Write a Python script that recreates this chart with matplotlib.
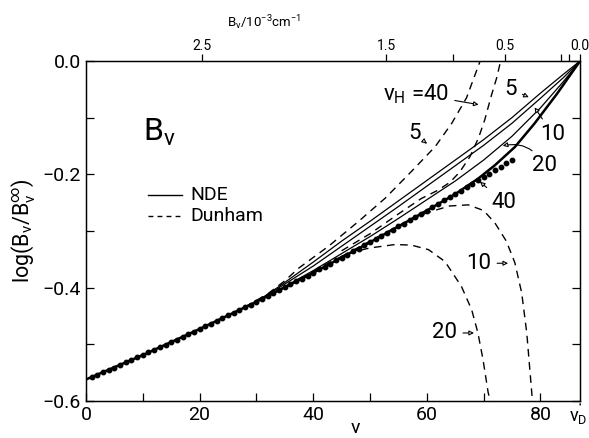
import numpy as np
import matplotlib.pyplot as plt

plt.rcParams['font.family'] = ['Roboto', 'DejaVu Sans']
plt.rcParams['mathtext.fontset'] = 'custom'
plt.rcParams['mathtext.rm'] = 'Roboto'
plt.rcParams['mathtext.it'] = 'Roboto'
plt.rcParams['mathtext.sf'] = 'Roboto'

# exact B_v values (dots), one per vibrational level
v_dots = list(range(1, 76))
y_dots = [-0.558, -0.554, -0.549, -0.545, -0.541, -0.536, -0.532, -0.528, -0.523, -0.519,
          -0.514, -0.510, -0.505, -0.501, -0.496, -0.492, -0.487, -0.482, -0.478, -0.473,
          -0.468, -0.464, -0.459, -0.454, -0.449, -0.444, -0.439, -0.434, -0.430, -0.425,
          -0.420, -0.415, -0.410, -0.405, -0.399, -0.394, -0.389, -0.384, -0.379, -0.374,
          -0.368, -0.363, -0.358, -0.352, -0.347, -0.342, -0.336, -0.331, -0.325, -0.320,
          -0.315, -0.309, -0.303, -0.298, -0.292, -0.287, -0.281, -0.275, -0.270, -0.264,
          -0.258, -0.252, -0.246, -0.241, -0.235, -0.229, -0.223, -0.217, -0.211, -0.205,
          -0.199, -0.193, -0.187, -0.181, -0.175]

# NDE curves (solid)
v_nde40 = [0, 10, 20, 30, 40, 50, 60, 65, 69, 72, 75.5, 79, 83, 87]
y_nde40 = [-0.562, -0.519, -0.473, -0.425, -0.374, -0.320, -0.264, -0.235, -0.208, -0.184,
           -0.152, -0.110, -0.057, 0.0]
v_nde5 = [30, 34, 40, 45, 50, 55, 60, 65, 70, 75, 80, 84, 87]
y_nde5 = [-0.425, -0.398, -0.355, -0.318, -0.283, -0.247, -0.211, -0.175, -0.139, -0.100,
          -0.057, -0.024, 0.0]
v_nde10 = [30, 34, 40, 45, 50, 55, 60, 65, 70, 75, 80, 84, 87]
y_nde10 = [-0.425, -0.400, -0.362, -0.327, -0.292, -0.257, -0.221, -0.185, -0.149, -0.110,
           -0.066, -0.030, 0.0]
v_nde20 = [30, 35, 40, 45, 50, 55, 60, 65, 70, 75, 80, 84, 87]
y_nde20 = [-0.425, -0.398, -0.370, -0.340, -0.310, -0.278, -0.245, -0.212, -0.175, -0.133,
           -0.083, -0.037, 0.0]

# Dunham curves (dashed)
v_dun5 = [28, 32, 35, 37.4, 42.7, 48, 52.7, 57.3, 61.5, 64.4, 67, 69.4]
y_dun5 = [-0.434, -0.411, -0.388, -0.366, -0.327, -0.283, -0.242, -0.195, -0.151, -0.110,
          -0.065, 0.0]
v_dun40 = [45, 50, 55, 59, 62, 64.1, 65.8, 67.6, 69.1, 70.2, 71.4, 72.3, 73.0]
y_dun40 = [-0.335, -0.305, -0.270, -0.243, -0.228, -0.214, -0.196, -0.169, -0.136, -0.104,
           -0.060, -0.030, 0.0]
v_dun10 = [45, 50, 55, 60, 64, 67.3, 70, 72, 74, 75.5, 76.7, 77.6, 78.1, 78.6]
y_dun10 = [-0.345, -0.318, -0.291, -0.268, -0.256, -0.254, -0.264, -0.286, -0.318, -0.356,
           -0.409, -0.480, -0.540, -0.600]
v_dun20 = [38, 42, 45, 47.4, 50, 54.4, 57.3, 60.3, 63.2, 66.1, 67.9, 69, 69.9, 70.8, 71.2]
y_dun20 = [-0.384, -0.360, -0.345, -0.336, -0.330, -0.324, -0.325, -0.333, -0.354, -0.398,
           -0.439, -0.480, -0.527, -0.585, -0.601]

v_D = 87
# top axis: B_v / 10^-3 cm^-1 ticks, placed at the matching v
bv_tick_v = [20.4, 52.9, 64.7, 73.8, 87]
bv_tick_labels = ['2.5', '1.5', '', '0.5', '0.0']
bv_minor_v = [83.7, 85.1]

fig = plt.figure(figsize=(5.89, 4.38), dpi=100)
ax = fig.add_axes([0.146, 0.0845, 0.839, 0.7765])

dash = (0, (5.5, 4))
ax.plot(v_nde5, y_nde5, 'k-', lw=0.9)
ax.plot(v_nde10, y_nde10, 'k-', lw=0.9)
ax.plot(v_nde20, y_nde20, 'k-', lw=0.9)
ax.plot(v_nde40, y_nde40, 'k-', lw=1.8)
for vv, yy in [(v_dun5, y_dun5), (v_dun40, y_dun40), (v_dun10, y_dun10), (v_dun20, y_dun20)]:
    ax.plot(vv, yy, color='k', lw=1.0, linestyle=dash)
ax.plot(v_dots, y_dots, 'ko', ms=3.2)

ax.set_xlim(0, v_D)
ax.set_ylim(-0.6, 0.0)

ax.set_xticks([0, 20, 40, 60, 80])
ax.set_xticks([10, 30, 50, 70], minor=True)
ax.set_yticks([0.0, -0.2, -0.4, -0.6])
ax.set_yticklabels(['0.0', '\u22120.2', '\u22120.4', '\u22120.6'])
ax.set_yticks([-0.1, -0.3, -0.5], minor=True)
ax.tick_params(which='both', direction='in', top=True, right=True, labelsize=14, width=0.9)
ax.tick_params(which='major', length=6)
ax.tick_params(which='minor', length=6)
for s in ax.spines.values():
    s.set_linewidth(1.0)

ax.set_xlabel('v', fontsize=14)
ax.xaxis.set_label_coords(0.545, -0.053)
ax.set_ylabel('log(B$_v$/B$_v^\u221e$)', fontsize=15.5, labelpad=4)

# v_D marker below the axis
ax.annotate('', xy=(v_D, -0.6), xytext=(v_D, -0.612), annotation_clip=False,
            arrowprops=dict(arrowstyle='-', lw=1.0))
ax.text(86.6, -0.612, 'v$_D$', fontsize=13, ha='center', va='top')

# top B_v axis
top = ax.twiny()
top.set_xlim(0, v_D)
top.set_xticks(bv_tick_v)
top.set_xticklabels(bv_tick_labels)
top.set_xticks(bv_minor_v, minor=True)
top.tick_params(which='both', direction='out', length=5, labelsize=10, pad=1, width=0.9)
top.set_xlabel('B$_v$/10$^{-3}$cm$^{-1}$', fontsize=9.5)
top.xaxis.set_label_coords(0.36, 1.1)

# labels
ax.text(0.115, 0.79, 'B$_v$', transform=ax.transAxes, fontsize=23, va='center')
ax.plot([0.1255, 0.194], [0.605, 0.605], 'k-', lw=1.0, transform=ax.transAxes)
ax.plot([0.1255, 0.194], [0.544, 0.544], color='k', lw=1.0, linestyle=(0, (3.5, 3)),
        transform=ax.transAxes)
ax.text(0.212, 0.605, 'NDE', transform=ax.transAxes, fontsize=14, va='center')
ax.text(0.212, 0.544, 'Dunham', transform=ax.transAxes, fontsize=14, va='center')

arr = dict(arrowstyle='-|>', lw=0.8, color='k', mutation_scale=7, fc='white')
ax.annotate('v$_H$ =40', xy=(69.6, -0.078), xytext=(52.3, -0.058), fontsize=16,
            va='center', arrowprops=arr)
ax.annotate('5', xy=(78.4, -0.066), xytext=(73.7, -0.05), fontsize=16, va='center',
            arrowprops=arr)
ax.annotate('10', xy=(78.7, -0.078), xytext=(80, -0.13), fontsize=16, va='center',
            arrowprops=arr)
ax.annotate('20', xy=(72.9, -0.151), xytext=(78.5, -0.185), fontsize=16, va='center',
            arrowprops=dict(arrowstyle='-|>', lw=0.8, color='k', mutation_scale=7, fc='white',
                            connectionstyle='arc3,rad=0.4'))
ax.annotate('40', xy=(69, -0.21), xytext=(71.4, -0.25), fontsize=16, va='center',
            arrowprops=arr)
ax.annotate('5', xy=(60, -0.146), xytext=(56.8, -0.128), fontsize=16, va='center',
            arrowprops=arr)
ax.annotate('10', xy=(74.8, -0.357), xytext=(67, -0.357), fontsize=16, va='center',
            arrowprops=arr)
ax.annotate('20', xy=(68.8, -0.48), xytext=(61, -0.48), fontsize=16, va='center',
            arrowprops=arr)

fig.savefig('out.png', dpi=100)
